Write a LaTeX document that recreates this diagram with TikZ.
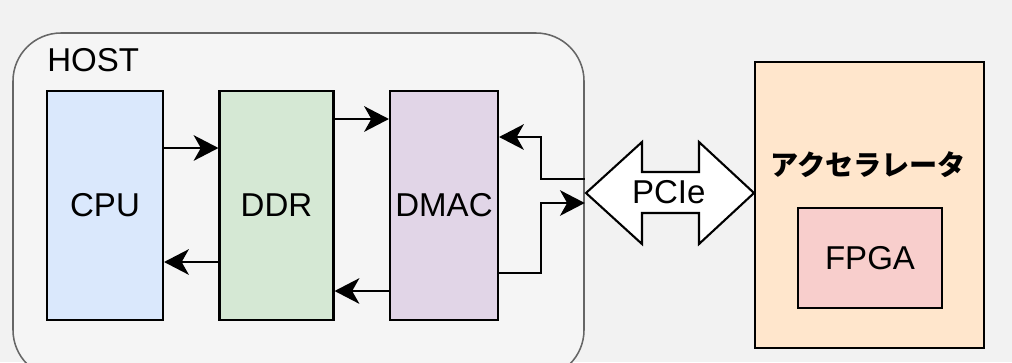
\documentclass[tikz,border=0pt]{standalone}
\usepackage{xcolor}
\usepackage{fontspec}
\setmainfont{Liberation Sans}
\newfontfamily\jpfont{Noto Sans CJK JP}
\usepackage{tikz}
\usetikzlibrary{arrows.meta}

\definecolor{bgGray}{HTML}{F2F2F2}
\definecolor{hostFill}{HTML}{F5F5F5}
\definecolor{hostLine}{HTML}{666666}
\definecolor{cpuBlue}{HTML}{DAE8FC}
\definecolor{ddrGreen}{HTML}{D5E8D4}
\definecolor{dmacPurple}{HTML}{E1D5E7}
\definecolor{accOrange}{HTML}{FFE6CC}
\definecolor{fpgaRed}{HTML}{F8CECC}

\begin{document}
\begin{tikzpicture}[
            blk/.style={rectangle, draw=black, line width=1.5pt, align=center, inner sep=0pt, font=\fontsize{23.5}{28}\selectfont},
            blk_tall/.style={blk, minimum height=5.725cm},
            link/.style={line width=1.5pt, -{Stealth[length=0.62cm, width=0.64cm, inset=0.18cm]}},
            pcie_shape/.style={draw=black, fill=white, line width=1.5pt, line join=miter}
        ]

    \fill[bgGray] (0,0) rectangle (25.3,-9.05);
    \useasboundingbox (0,0) rectangle (25.3,-9.05);

    \node[draw=hostLine, fill=hostFill, line width=1.1pt, rounded corners=1.2cm,
          minimum width=14.275cm, minimum height=8.625cm] (host) at (7.4625,-5.1375) {};
    \node[anchor=west, inner sep=0pt, font=\fontsize{23.5}{28}\selectfont] (hostlabel) at (1.175,-1.5) {HOST};

    \node[blk_tall, fill=cpuBlue,    minimum width=2.9cm]   (cpu)  at (2.625,-5.1375)  {CPU};
    \node[blk_tall, fill=ddrGreen,   minimum width=2.85cm]  (ddr)  at (6.9125,-5.1375) {DDR};
    \node[blk_tall, fill=dmacPurple, minimum width=2.7cm]   (dmac) at (11.1,-5.1375)   {DMAC};

    \draw[link] (cpu.east |- 0,-3.7)    -- (ddr.west |- 0,-3.7);
    \draw[link] (ddr.west |- 0,-6.55)   -- (cpu.east |- 0,-6.55);
    \draw[link] (ddr.east |- 0,-2.975)  -- (dmac.west |- 0,-2.975);
    \draw[link] (dmac.west |- 0,-7.275) -- (ddr.east |- 0,-7.275);

    % PCIe double arrow
    \draw[pcie_shape] (14.65,-4.825) -- (16.05,-3.55) -- (16.05,-4.3) -- (17.475,-4.3) -- (17.475,-3.55)
        -- (18.85,-4.825) -- (17.475,-6.1) -- (17.475,-5.325) -- (16.05,-5.325) -- (16.05,-6.1) -- cycle;
    \node[inner sep=0pt, font=\fontsize{23.5}{28}\selectfont] (pcie) at (16.72,-4.8) {PCIe};

    % PCIe <-> DMAC
    \draw[link] (host.east |- 0,-4.475) -| (13.525,-3.425) -- (dmac.east |- 0,-3.425);
    \draw[link] (dmac.east |- 0,-6.825) -| (13.525,-5.075) -- (host.east |- 0,-5.075);

    \node[blk, fill=accOrange, minimum width=5.725cm, minimum height=7.15cm] (acc) at (21.7375,-5.125) {};
    \node[font=\jpfont\bfseries\fontsize{20}{24}\selectfont, inner sep=0pt] (acclabel) at (21.7,-4.125) {アクセラレータ};
    \node[blk, fill=fpgaRed, minimum width=3.6cm, minimum height=2.5cm] (fpga) at (21.75,-6.45) {FPGA};

        \end{tikzpicture}
\end{document}
